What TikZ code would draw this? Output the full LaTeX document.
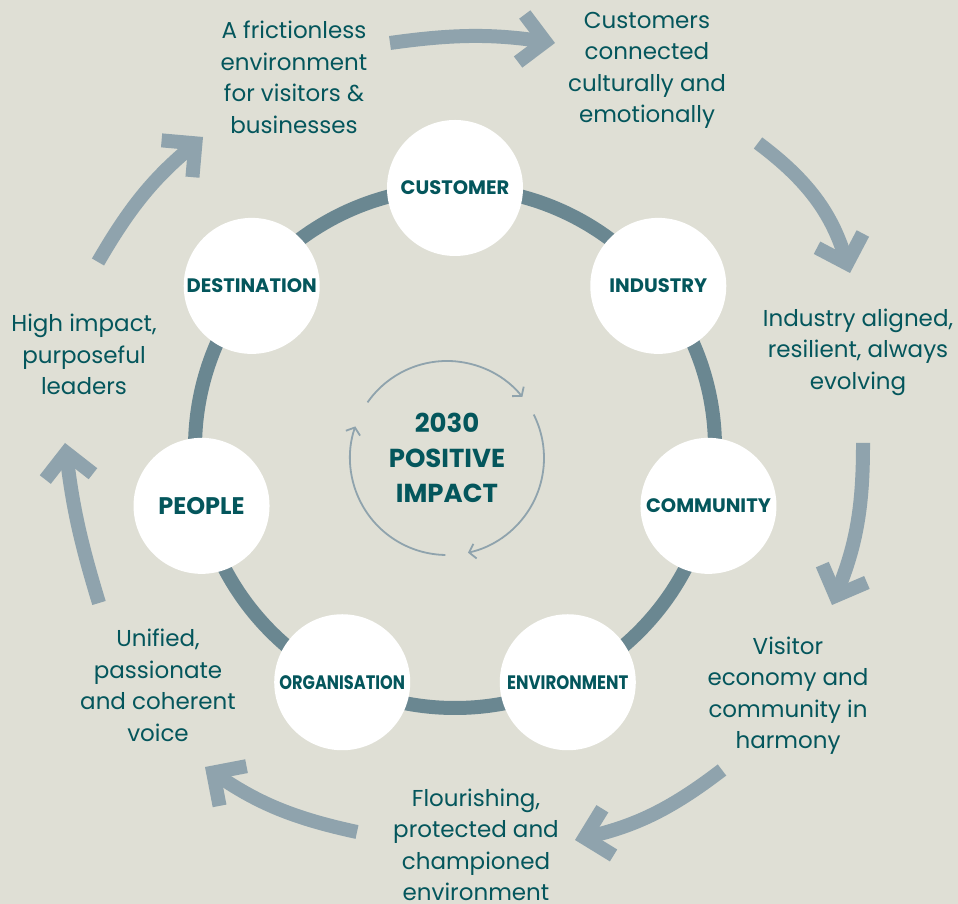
\documentclass[tikz,border=0pt]{standalone}
\usepackage{fontspec}
\setmainfont{Poppins}
\usetikzlibrary{arrows.meta,positioning}

\definecolor{paper}{RGB}{223,223,213}
\definecolor{ink}{RGB}{4,86,92}
\definecolor{ringgrey}{RGB}{106,135,145}
\definecolor{arrowgrey}{RGB}{143,163,173}

\begin{document}
\begin{tikzpicture}[x=1pt, y=1pt,
            hub/.style={circle, fill=white, minimum size=136pt, inner sep=0pt, text=ink, font=\bfseries\fontsize{19.5}{22}\selectfont},
            note/.style={align=center, text=ink, font=\fontsize{23}{31.5}\selectfont},
            bigarrow/.style={arrowgrey, line width=14pt, -{Straight Barb[length=24pt, width=48pt]}},
            smallarrow/.style={arrowgrey, line width=1.8pt, -{Straight Barb[length=6pt, width=15pt]}},
            ring/.style={ringgrey, line width=14pt}
        ]

        % Page
        \fill[paper] (0,0) rectangle (958,904);
        \useasboundingbox (0,0) rectangle (958,904);

        % Ring of pillars
        \begin{scope}[shift={(455,456)}]
            \draw[ring] (0,0) circle (260);
            \node[hub] (customer) at (90:260) {CUSTOMER};
            \node[hub] (industry) at (38.57:260) {INDUSTRY};
            \node[hub] (community) at (-12.86:260) {COMMUNITY};
            \node[hub] (environment) at (-64.29:260) {\scalebox{0.85}[1]{ENVIRONMENT}};
            \node[hub] (organisation) at (-115.71:260) {\scalebox{0.83}[1]{ORGANISATION}};
            \node[hub, font=\bfseries\fontsize{24}{26}\selectfont] (people) at (-167.14:260) {PEOPLE};
            \node[hub] (destination) at (141.43:260) {DESTINATION};
        \end{scope}

        % Centre
        \node[text=ink, align=center, font=\bfseries\fontsize{26}{35}\selectfont] (impact) at (447,446) {2030\\POSITIVE\\IMPACT};
        \begin{scope}[shift={(447,446)}]
            \draw[smallarrow] (145:97) arc[start angle=145, end angle=39, radius=97];
            \draw[smallarrow] (26.6:97) arc[start angle=26.6, end angle=-77.5, radius=97];
            \draw[smallarrow] (-91:97) arc[start angle=-91, end angle=-199, radius=97];
        \end{scope}

        % Outcomes
        \node[note] (frictionless) at (294,826.5) {A frictionless\\environment\\for visitors \&\\businesses};
        \node[note] (customers) at (647,833.5) {Customers\\connected\\culturally and\\emotionally};
        \node[note] (aligned) at (858,552) {Industry aligned,\\resilient, always\\evolving};
        \node[note] (harmony) at (788,208.5) {Visitor\\economy and\\community in\\harmony};
        \node[note] (flourishing) at (476,59) {Flourishing,\\protected and\\championed\\environment};
        \node[note] (voice) at (158,218.5) {Unified,\\passionate\\and coherent\\voice};
        \node[note] (leaders) at (84,549.5) {High impact,\\purposeful\\leaders};

        % Arrow ends
        \coordinate (a1-from) at (390,861);
        \coordinate (a1-to) at (555,861);
        \coordinate (a2-from) at (758,761);
        \coordinate (a2-to) at (850,631);
        \coordinate (a3-from) at (863,461);
        \coordinate (a3-to) at (832,299);
        \coordinate (a4-from) at (722,134);
        \coordinate (a4-to) at (575,64);
        \coordinate (a5-from) at (357,72);
        \coordinate (a5-to) at (205,137);
        \coordinate (a6-from) at (99,301);
        \coordinate (a6-to) at (65,461);
        \coordinate (a7-from) at (98,642);
        \coordinate (a7-to) at (203,767);

        % Outer cycle
        \draw[bigarrow] (a1-from) to[bend left=8] (a1-to);
        \draw[bigarrow] (a2-from) to[bend left=18] (a2-to);
        \draw[bigarrow] (a3-from) to[bend left=11] (a3-to);
        \draw[bigarrow] (a4-from) to[bend left=12] (a4-to);
        \draw[bigarrow] (a5-from) to[bend left=11] (a5-to);
        \draw[bigarrow] (a6-from) to[bend left=5] (a6-to);
        \draw[bigarrow] (a7-from) to[bend left=10] (a7-to);

\end{tikzpicture}
\end{document}
